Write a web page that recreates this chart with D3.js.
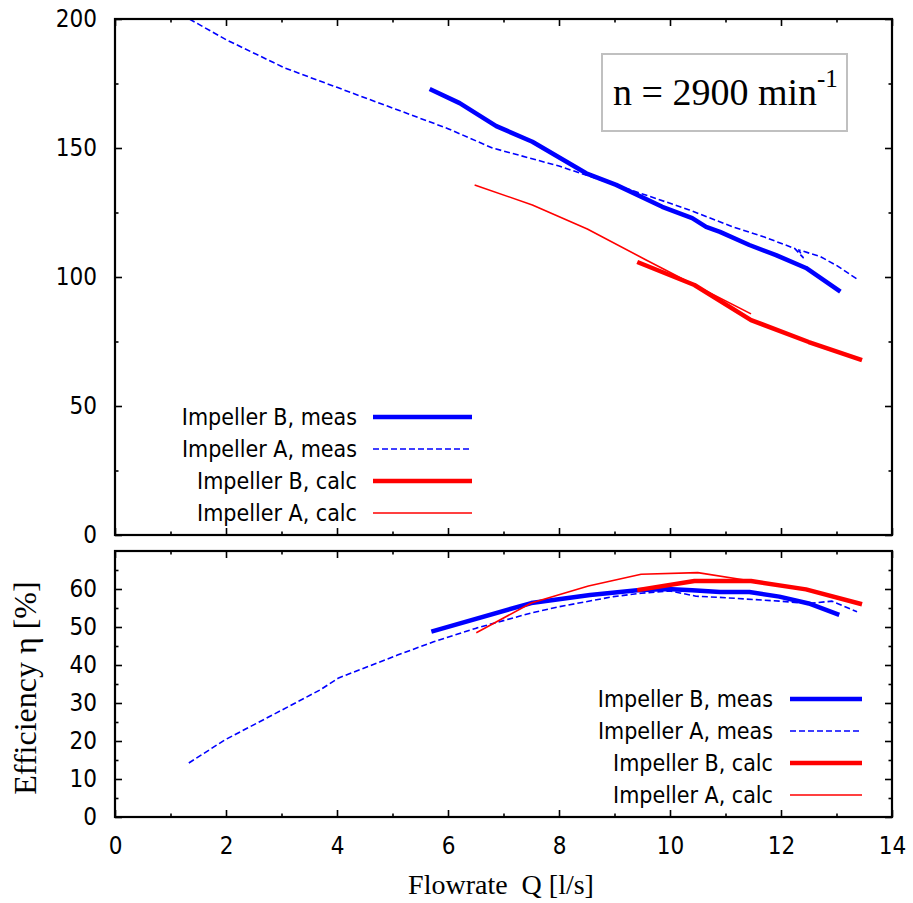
<!DOCTYPE html>
<html>
<head>
<meta charset="utf-8">
<script src="https://cdn.jsdelivr.net/npm/d3@7"></script>
<style>
  body { margin: 0; background: #fff; }
  .tick text, .leg { font-family: "DejaVu Sans Condensed", "DejaVu Sans", sans-serif; font-stretch: condensed; }
  .serif { font-family: "Liberation Serif", "Times New Roman", serif; }
</style>
</head>
<body>
<svg id="chart" width="913" height="903"></svg>
<script>
// ---- data ----
// head H [m] vs flowrate Q [l/s]
const qHeadBmeas = [5.67, 6.21, 6.87, 7.52, 8.49, 9.03, 9.86, 10.4, 10.65, 10.9, 11.43, 11.91, 12.45, 13.07]
const headBmeas  = [172.9, 167.4, 158.5, 152.4, 140.2, 135.7, 127.2, 122.8, 119.4, 117.5, 112.4, 108.5, 103.5, 94.3]
const qHeadAmeas = [1.34, 2.0, 3.06, 4.0, 5.0, 6.0, 6.8, 8.0, 9.03, 9.6, 10.35, 11.12, 11.7, 12.25, 12.4, 12.32, 12.7, 13.0, 13.37]
const headAmeas  = [200, 192, 181, 173.5, 165.5, 157.5, 150, 143, 135.6, 131.5, 126, 119.5, 115.5, 111, 107.5, 110.5, 108, 104.5, 99.2]
const qHeadBcalc = [9.41, 10.44, 11.46, 12.5, 13.46]
const headBcalc  = [105.8, 96.9, 83.3, 74.8, 67.8]
const qHeadAcalc = [6.48, 7.52, 8.51, 9.57, 10.44, 11.46]
const headAcalc  = [135.7, 127.9, 118.6, 106.6, 96.9, 85.7]

// efficiency [%] vs flowrate Q [l/s]
const qEffBmeas = [5.7, 7.5, 8.56, 9.41, 9.95, 10.4, 10.9, 11.43, 11.97, 12.5, 13.05]
const effBmeas  = [48.8, 56.3, 58.4, 59.7, 60, 59.7, 59.2, 59.2, 58, 56.2, 53.2]
const qEffAmeas = [1.33, 1.98, 2.91, 3.69, 4.03, 5.09, 5.74, 6.51, 7.5, 7.99, 8.98, 9.48, 10.0, 10.47, 10.9, 11.97, 12.5, 12.92, 13.37]
const effAmeas  = [14.2, 20.3, 27.4, 33.4, 36.6, 42.6, 46.1, 49.7, 53.7, 55.3, 58, 58.9, 59.5, 58.1, 57.8, 56.8, 56.2, 56.8, 54]
const qEffBcalc = [9.41, 10.44, 11.46, 12.45, 13.46]
const effBcalc  = [59.7, 62.1, 62.1, 59.9, 56]
const qEffAcalc = [6.51, 7.5, 8.53, 9.48, 10.5, 11.46]
const effAcalc  = [48.5, 56.3, 60.8, 63.9, 64.3, 62.1]

const seriesNames = ["Impeller B, meas", "Impeller A, meas", "Impeller B, calc", "Impeller A, calc"]
const headTicks = [0, 50, 100, 150, 200]
const effTicks = [0, 10, 20, 30, 40, 50, 60]
const qTicks = [0, 2, 4, 6, 8, 10, 12, 14]

// ---- styles ----
const styles = [
  {color: "#0000ff", width: 4.5, dash: null},
  {color: "#0000ff", width: 1.6, dash: "6,3"},
  {color: "#ff0000", width: 4.5, dash: null},
  {color: "#ff0000", width: 1.6, dash: null}
]

let svg = d3.select("#chart"),
    left = 115, right = 892

let x = d3.scaleLinear().domain([0, 14]).range([left, right]),
    yH = d3.scaleLinear().domain([0, 200]).range([535, 19]),
    yE = d3.scaleLinear().domain([0, 70]).range([817, 551])

let zip = (q, v) => q.map((d, i) => [d, v[i]])

function panel(y, majors, minors, data, legend, showX) {
  let g = svg.append("g")
  let top = y.range()[1], bot = y.range()[0]
  let clipId = "clip" + Math.round(top)
  svg.append("clipPath").attr("id", clipId)
    .append("rect").attr("x", left).attr("y", top).attr("width", right - left).attr("height", bot - top)

  // ticks: major + minor, inward, on all four sides
  let xl = d3.axisBottom(x).tickValues(qTicks).tickSize(-7).tickFormat(showX ? d3.format("d") : "").tickPadding(20)
  let xm = d3.axisBottom(x).tickValues(d3.range(1, 14, 2)).tickSize(-3.5).tickFormat("")
  let xt = d3.axisTop(x).tickValues(qTicks).tickSize(-7).tickFormat("")
  let xtm = d3.axisTop(x).tickValues(d3.range(1, 14, 2)).tickSize(-3.5).tickFormat("")
  let yl = d3.axisLeft(y).tickValues(majors).tickSize(-7).tickPadding(18)
  let ym = d3.axisLeft(y).tickValues(minors).tickSize(-3.5).tickFormat("")
  let yr = d3.axisRight(y).tickValues(majors).tickSize(-7).tickFormat("")
  let yrm = d3.axisRight(y).tickValues(minors).tickSize(-3.5).tickFormat("")

  let axes = [[xl, 0, bot], [xm, 0, bot], [xt, 0, top], [xtm, 0, top],
              [yl, left, 0], [ym, left, 0], [yr, right, 0], [yrm, right, 0]]
  axes.forEach(([ax, tx, ty]) => {
    let a = g.append("g").attr("transform", "translate(" + tx + "," + ty + ")").call(ax)
    a.select(".domain").remove()
    a.selectAll(".tick line").attr("stroke", "#000").attr("stroke-width", 1.6)
    a.selectAll(".tick text").attr("font-size", 24).attr("fill", "#000")
  })

  let line = d3.line().x(d => x(d[0])).y(d => y(d[1]))
  data.forEach((pts, i) => {
    g.append("path")
      .datum(pts)
      .attr("clip-path", "url(#" + clipId + ")")
      .attr("d", line)
      .attr("fill", "none")
      .attr("stroke", styles[i].color)
      .attr("stroke-width", styles[i].width)
      .attr("stroke-dasharray", styles[i].dash)
      .attr("stroke-linejoin", "round")
  })

  // legend
  let lg = g.append("g")
  seriesNames.forEach((name, i) => {
    let ly = legend.y + i * legend.step
    lg.append("text").attr("class", "leg")
      .attr("x", legend.textX).attr("y", ly).attr("dy", "0.35em")
      .attr("text-anchor", "end").attr("font-size", 23).text(name)
    lg.append("line")
      .attr("x1", legend.x1).attr("x2", legend.x2).attr("y1", ly).attr("y2", ly)
      .attr("stroke", styles[i].color)
      .attr("stroke-width", styles[i].width)
      .attr("stroke-dasharray", styles[i].dash)
  })

  g.append("rect")
    .attr("x", left).attr("y", top).attr("width", right - left).attr("height", bot - top)
    .attr("fill", "none").attr("stroke", "#000").attr("stroke-width", 2.2)
}

panel(yH, headTicks, [25, 75, 125, 175],
  [zip(qHeadBmeas, headBmeas), zip(qHeadAmeas, headAmeas), zip(qHeadBcalc, headBcalc), zip(qHeadAcalc, headAcalc)],
  {y: 417, step: 32, textX: 357, x1: 373, x2: 472}, false)

panel(yE, effTicks, [5, 15, 25, 35, 45, 55, 65],
  [zip(qEffBmeas, effBmeas), zip(qEffAmeas, effAmeas), zip(qEffBcalc, effBcalc), zip(qEffAcalc, effAcalc)],
  {y: 699, step: 32, textX: 773, x1: 790, x2: 862}, true)

// speed annotation
svg.append("rect")
  .attr("x", 602).attr("y", 54).attr("width", 245).attr("height", 77)
  .attr("fill", "#fff").attr("stroke", "#c0c0c0").attr("stroke-width", 2)
let ann = svg.append("text").attr("class", "serif").attr("x", 613).attr("y", 105).attr("font-size", 38)
ann.append("tspan").text("n = 2900 min")
ann.append("tspan").attr("font-size", 25).attr("dy", -18).text("-1")

// axis titles
svg.append("text").attr("class", "serif")
  .attr("x", 501).attr("y", 894).attr("text-anchor", "middle").attr("font-size", 28)
  .attr("xml:space", "preserve").text("Flowrate  Q [l/s]")
svg.append("text").attr("class", "serif")
  .attr("transform", "translate(36,688) rotate(-90)")
  .attr("text-anchor", "middle").attr("font-size", 32)
  .text("Efficiency η [%]")
</script>
</body>
</html>
